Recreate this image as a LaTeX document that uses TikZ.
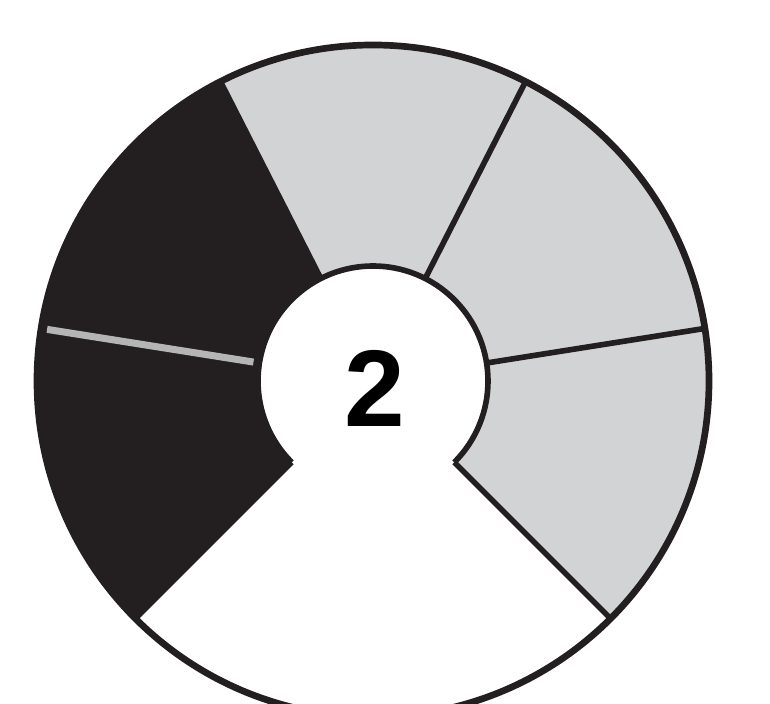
\documentclass[tikz,border=0pt]{standalone}
\usepackage{fontspec}
\setmainfont{Liberation Sans}
\definecolor{inkblack}{HTML}{231F20}
\definecolor{lightgrey}{HTML}{D1D3D4}
\definecolor{splitgrey}{HTML}{B5B5B6}

\begin{document}
\begin{tikzpicture}[x=0.01cm, y=0.01cm, line join=round,
    edge/.style={draw=inkblack, line width=1.6pt}]
    \useasboundingbox (-373, -323) rectangle (397, 381);
    \clip (-373, -323) rectangle (397, 381);

    % Grey sectors on the right
    \foreach \a/\b in {-45/9, 9/63, 63/117}
        \fill[lightgrey] (\a:336) arc[start angle=\a, end angle=\b, radius=336]
            -- (\b:115) arc[start angle=\b, end angle=\a, radius=115] -- cycle;

    % Black sectors on the left
    \fill[inkblack] (117:336) arc[start angle=117, end angle=225, radius=336]
        -- (225:115) arc[start angle=225, end angle=117, radius=115] -- cycle;

    % Inner ring, open towards the white sector
    \draw[edge] (-45:115) arc[start angle=-45, end angle=225, radius=115];

    % Dividers
    \foreach \a in {-45, 9, 63, 117, 225}
        \draw[edge] (\a:115) -- (\a:336);
    \draw[splitgrey, line width=2pt] (171:121) -- (171:330);

    % Outer rim
    \draw[edge, line width=1.9pt] (0,0) circle (336);

    \node[inner sep=0pt] (num) at (2,-7) {\fontsize{31}{31}\selectfont\bfseries 2};
\end{tikzpicture}
\end{document}
